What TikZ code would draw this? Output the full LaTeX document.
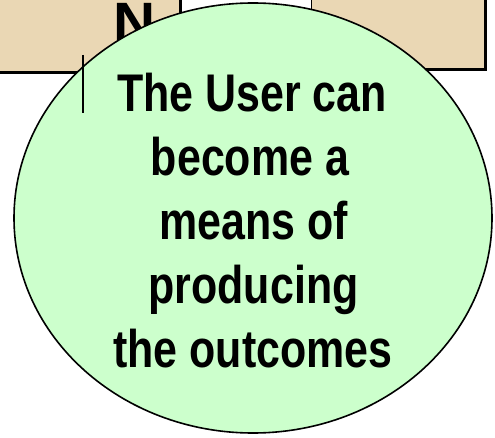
\documentclass[tikz,border=0pt]{standalone}
\usepackage{fontspec}
\setmainfont{Liberation Sans}
\usetikzlibrary{shapes.geometric}
\definecolor{tan}{RGB}{234,215,180}
\definecolor{bubblegreen}{RGB}{204,255,204}
\tikzset{
  tanbox/.style={draw=black, line width=1.3pt, fill=tan, inner sep=0pt},
  boxshadow/.style={fill=black, inner sep=0pt},
  bubble/.style={ellipse, draw=black, line width=1.6pt, fill=bubblegreen, inner sep=0pt},
  line/.style={anchor=base, inner sep=0pt, font=\fontsize{53}{60}\selectfont\bfseries},
}
\newcommand{\sq}[1]{\scalebox{0.81}[1]{#1}}
\begin{document}
\begin{tikzpicture}[x=1pt,y=-1pt]
\useasboundingbox (0,0) rectangle (495,438);
% shadows
\node[boxshadow, minimum width=190pt, minimum height=80pt, anchor=south east] (lsh) at (182,74) {};
\node[boxshadow, minimum width=175pt, minimum height=80pt, anchor=south east] (rsh) at (487,71) {};
% tan boxes
\node[tanbox, minimum width=190pt, minimum height=80pt, anchor=south east] (lbox) at (180,72) {};
\node[tanbox, minimum width=173pt, minimum height=80pt, anchor=south east] (rbox) at (485,69) {};
% N letter
\node[anchor=base, inner sep=0pt, font=\fontsize{54}{60}\selectfont\bfseries] (nletter) at (134.5,40.5) {\scalebox{1.08}[1]{N}};
% bubble
\node[bubble, minimum width=478pt, minimum height=430pt] (bubble) at (253,218) {};
% vertical mark
\coordinate (vt) at (83,55);
\coordinate (vb) at (83,113);
\draw[line width=1.2pt] (vt) -- (vb);
% text
\node[line] (l1) at (252,112) {\sq{The User can}};
\node[line] (l2) at (250,176) {\sq{become a}};
\node[line] (l3) at (254,239.5) {\sq{means of}};
\node[line] (l4) at (253.5,303) {\sq{producing}};
\node[line] (l5) at (253,367) {\sq{the outcomes}};
\end{tikzpicture}
\end{document}
